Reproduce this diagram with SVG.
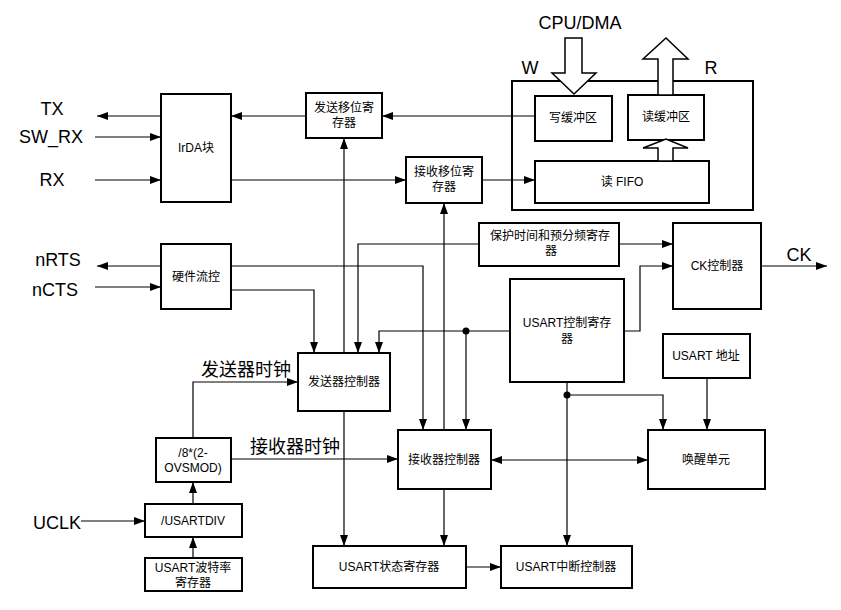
<svg xmlns="http://www.w3.org/2000/svg" width="841" height="610" viewBox="0 0 841 610">
<style>
.box{fill:#fff;stroke:#000;stroke-width:2}
.frame{fill:none;stroke:#000;stroke-width:2}
.ln{fill:none;stroke:#000;stroke-width:1.2}
.ar{marker-end:url(#ah)}
.bi{marker-start:url(#ah);marker-end:url(#ah)}
.blk{fill:#fff;stroke:#000;stroke-width:1.5;stroke-linejoin:miter}
text{font-family:"Liberation Sans","Noto Sans CJK SC",sans-serif;text-anchor:middle;dominant-baseline:central;fill:#000}
.t{font-size:12px}
.big{font-size:18px}
</style>
<defs>
<marker id="ah" markerUnits="userSpaceOnUse" markerWidth="12" markerHeight="9" refX="11" refY="4" orient="auto-start-reverse" viewBox="0 0 12 9">
<path d="M0,0 L11,4 L0,8 z" fill="#000"/>
</marker>
</defs>
<rect width="841" height="610" fill="#fff"/>

<g id="labels">
<text class="big" x="52" y="109">TX</text>
<text class="big" x="51" y="137">SW_RX</text>
<text class="big" x="52" y="180">RX</text>
<text class="big" x="58" y="260">nRTS</text>
<text class="big" x="55" y="290">nCTS</text>
<text class="big" x="57" y="523">UCLK</text>
<text class="big" x="799" y="255">CK</text>
<text class="big" x="580" y="23">CPU/DMA</text>
<text class="big" x="530" y="68">W</text>
<text class="big" x="711" y="68">R</text>
<text class="big" x="246" y="370">发送器时钟</text>
<text class="big" x="295" y="447">接收器时钟</text>
</g>

<g id="fifo">
<rect class="frame" x="512" y="81" width="241" height="129"/>
</g>
<g id="write-buffer">
<rect class="box" x="535" y="96" width="77" height="45"/>
<text class="t" x="573" y="118">写缓冲区</text>
</g>
<g id="read-buffer">
<rect class="box" x="628" y="95" width="76" height="45"/>
<text class="t" x="666" y="117">读缓冲区</text>
</g>
<g id="read-fifo">
<rect class="box" x="535" y="161" width="174" height="42"/>
<text class="t" x="622" y="182">读 FIFO</text>
</g>
<g id="cpu-write-arrow">
<path class="blk" d="M565,38 H582 V73 H596 L574,94 L552,73 H565 Z"/>
</g>
<g id="cpu-read-arrow">
<path class="blk" d="M658,95 V59 H643 L666,38 L688,59 H673 V95 Z"/>
</g>
<g id="fifo-read-arrow">
<path class="blk" d="M658,161 V148 H643 L666,139 L688,148 H673 V161 Z"/>
</g>

<g id="irda">
<rect class="box" x="161" y="94" width="70" height="108"/>
<text class="t" x="196" y="148">IrDA块</text>
</g>
<g id="tx-shift">
<rect class="box" x="306" y="93" width="76" height="45"/>
<text class="t" x="344" y="108">发送移位寄</text>
<text class="t" x="344" y="123">存器</text>
</g>
<g id="rx-shift">
<rect class="box" x="406" y="157" width="76" height="46"/>
<text class="t" x="444" y="172">接收移位寄</text>
<text class="t" x="444" y="187">存器</text>
</g>
<g id="guard-prescaler">
<rect class="box" x="479" y="223" width="140" height="43"/>
<text class="t" x="550" y="236">保护时间和预分频寄存</text>
<text class="t" x="551" y="251">器</text>
</g>
<g id="ck-ctrl">
<rect class="box" x="673" y="223" width="88" height="86"/>
<text class="t" x="717" y="266">CK控制器</text>
</g>
<g id="hw-flow">
<rect class="box" x="161" y="244" width="70" height="65"/>
<text class="t" x="196" y="277">硬件流控</text>
</g>
<g id="ctrl-reg">
<rect class="box" x="510" y="279" width="114" height="103"/>
<text class="t" x="567" y="323">USART控制寄存</text>
<text class="t" x="567" y="339">器</text>
</g>
<g id="addr">
<rect class="box" x="663" y="334" width="87" height="44"/>
<text class="t" x="706" y="356">USART 地址</text>
</g>
<g id="tx-ctrl">
<rect class="box" x="298" y="353" width="92" height="58"/>
<text class="t" x="344" y="382">发送器控制器</text>
</g>
<g id="rx-ctrl">
<rect class="box" x="398" y="430" width="93" height="59"/>
<text class="t" x="444" y="460">接收器控制器</text>
</g>
<g id="wakeup">
<rect class="box" x="648" y="430" width="117" height="59"/>
<text class="t" x="706" y="460">唤醒单元</text>
</g>
<g id="div8">
<rect class="box" x="156" y="438" width="75" height="44"/>
<text class="t" x="193" y="453">/8*(2-</text>
<text class="t" x="193" y="468">OVSMOD)</text>
</g>
<g id="usartdiv">
<rect class="box" x="145" y="504" width="97" height="33"/>
<text class="t" x="193" y="521">/USARTDIV</text>
</g>
<g id="baud-reg">
<rect class="box" x="145" y="558" width="97" height="33"/>
<text class="t" x="193" y="568">USART波特率</text>
<text class="t" x="193" y="583">寄存器</text>
</g>
<g id="status-reg">
<rect class="box" x="313" y="546" width="153" height="42"/>
<text class="t" x="389" y="567">USART状态寄存器</text>
</g>
<g id="irq-ctrl">
<rect class="box" x="501" y="546" width="131" height="42"/>
<text class="t" x="566" y="567">USART中断控制器</text>
</g>

<g id="connectors">
<path class="ln ar" d="M161,116 H97"/>
<path class="ln ar" d="M95,137 H161"/>
<path class="ln ar" d="M95,180 H161"/>
<path class="ln ar" d="M231,180 H406"/>
<path class="ln ar" d="M306,116 H231"/>
<path class="ln ar" d="M535,116 H382"/>
<path class="ln ar" d="M482,180 H535"/>
<path class="ln ar" d="M344,353 V138"/>
<path class="ln ar" d="M344,411 V546"/>
<path class="ln ar" d="M444,430 V203"/>
<path class="ln ar" d="M444,489 V546"/>
<path class="ln ar" d="M161,266 H97"/>
<path class="ln ar" d="M95,287 H161"/>
<path class="ln ar" d="M231,290 H314 V353"/>
<path class="ln ar" d="M231,266 H423 V430"/>
<path class="ln ar" d="M479,244 H358 V353"/>
<path class="ln ar" d="M619,244 H673"/>
<path class="ln ar" d="M510,331 H379 V353"/>
<path class="ln ar" d="M466,331 V430"/>
<path class="ln ar" d="M624,331 H640 V266 H673"/>
<path class="ln ar" d="M761,266 H827"/>
<path class="ln ar" d="M567,382 V546"/>
<path class="ln ar" d="M567,395 H663 V430"/>
<path class="ln ar" d="M707,378 V430"/>
<path class="ln bi" d="M491,460 H648"/>
<path class="ln ar" d="M466,567 H501"/>
<path class="ln ar" d="M193,438 V382 H298"/>
<path class="ln ar" d="M231,459 H398"/>
<path class="ln ar" d="M81,521 H145"/>
<path class="ln ar" d="M193,504 V482"/>
<path class="ln ar" d="M193,558 V537"/>
<circle cx="466" cy="331" r="3.5" fill="#000"/>
<circle cx="567" cy="395" r="3.5" fill="#000"/>
</g>
</svg>
